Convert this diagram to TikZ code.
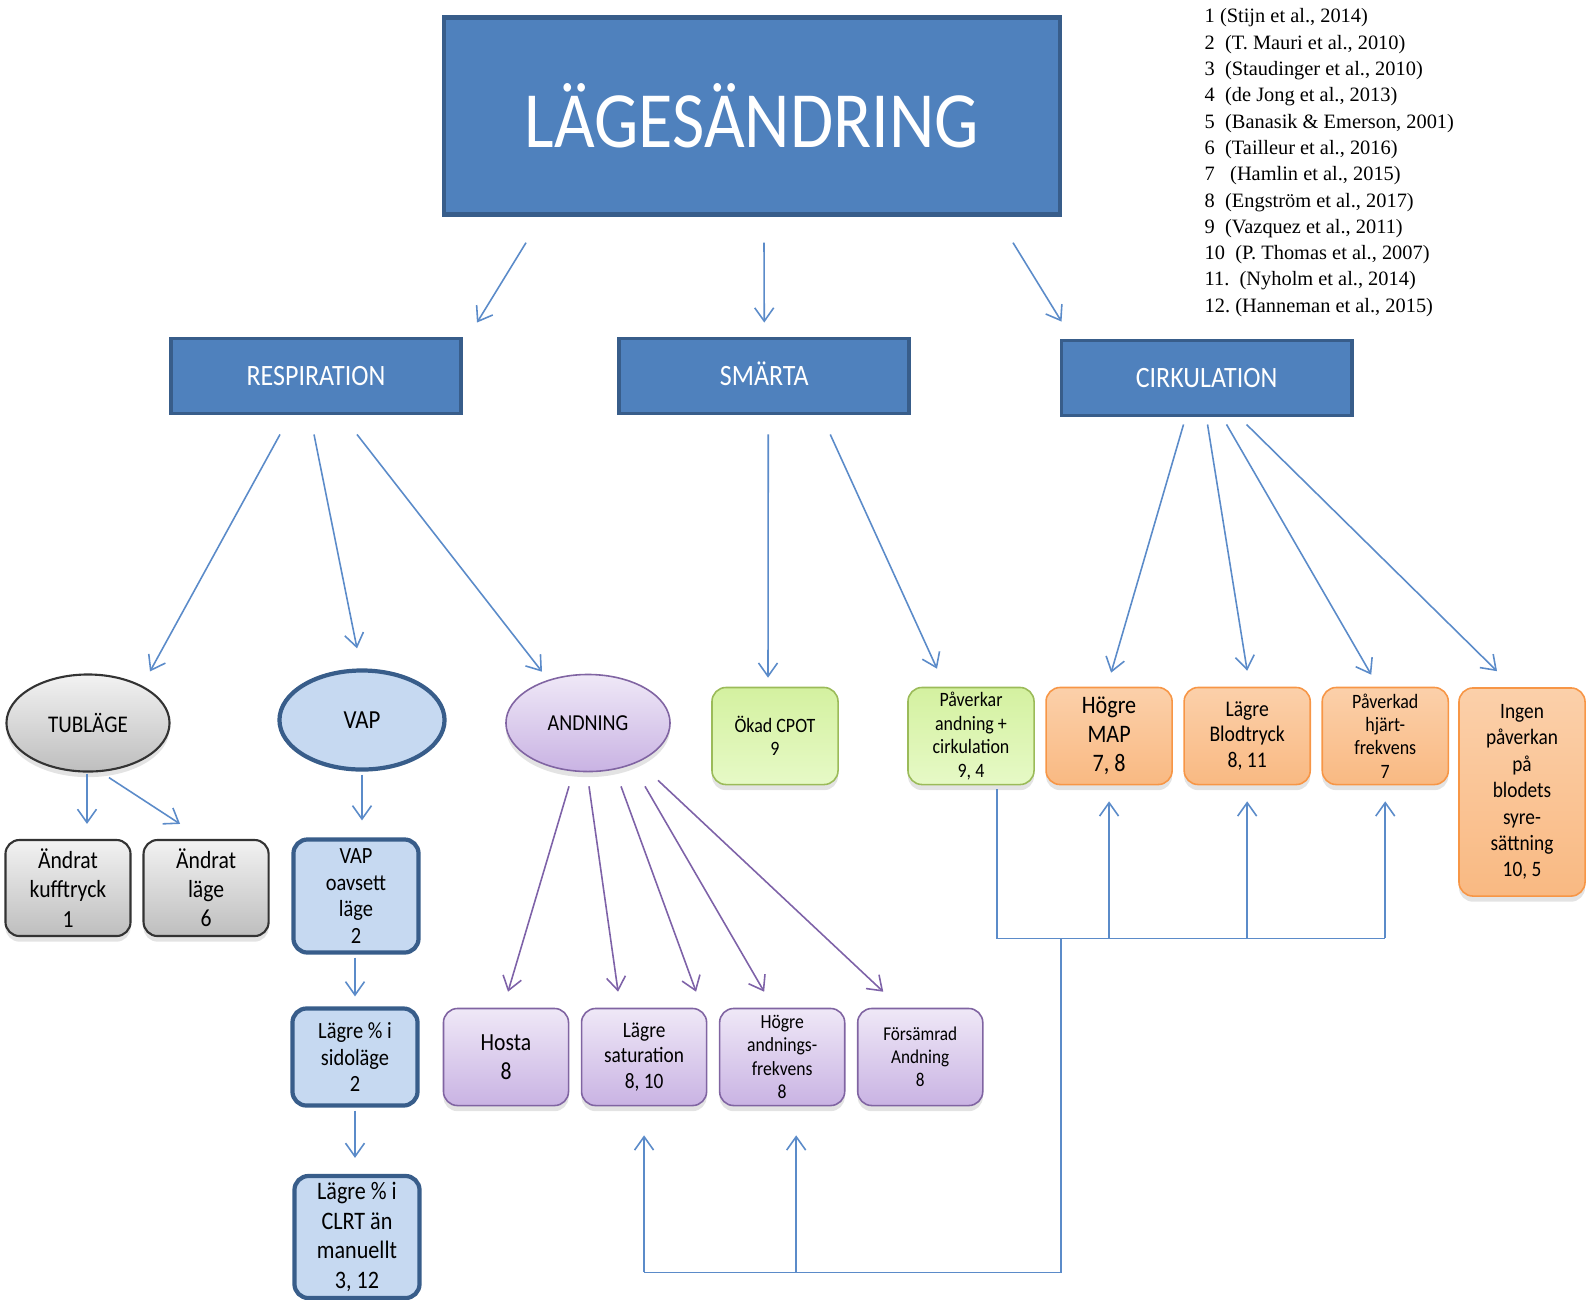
\documentclass[tikz,border=0pt]{standalone}
\usepackage{fontspec}
\setmainfont{Carlito}[FakeStretch=0.88]
\newfontfamily\reffont{Liberation Serif}
\usetikzlibrary{shapes.geometric,arrows.meta,calc,shadows}

\definecolor{boxblue}{HTML}{4F81BD}
\definecolor{edgeblue}{HTML}{385D8A}
\definecolor{paleblue}{HTML}{C6D9F1}
\definecolor{arrowblue}{HTML}{5B8BC9}
\definecolor{grayhi}{HTML}{F2F2F2}
\definecolor{graylo}{HTML}{BEBEBE}
\definecolor{grayedge}{HTML}{333333}
\definecolor{purpedge}{HTML}{8064A2}
\definecolor{purphi}{HTML}{EFE8F7}
\definecolor{purplo}{HTML}{C9B3E3}
\definecolor{purparrow}{HTML}{7E62A8}
\definecolor{greenedge}{HTML}{9BBB59}
\definecolor{greenhi}{HTML}{D4F1A0}
\definecolor{greenlo}{HTML}{E6F9C6}
\definecolor{orangeedge}{HTML}{F79646}
\definecolor{orangehi}{HTML}{FBD0AA}
\definecolor{orangelo}{HTML}{F9B982}

\newcommand{\fsz}[2]{\fontsize{#1}{#2}\selectfont}

\begin{document}
\begin{tikzpicture}[x=0.01cm,y=-0.01cm,node distance=1.38cm]

	\tikzstyle{headbox}=[rectangle,fill=boxblue,draw=edgeblue,line width=1.2pt,
		text=white,minimum width=6.15cm,minimum height=1.97cm,font=\fsz{22.7}{26}]
	\tikzstyle{topic}=[rectangle,fill=boxblue,draw=edgeblue,line width=1.1pt,
		text=white,minimum width=2.9cm,minimum height=0.75cm,inner sep=1pt,
		text height=5.5pt,text depth=0pt,font=\fsz{8.4}{10}]
	\tikzstyle{shade}=[drop shadow={opacity=0.22,shadow xshift=0pt,shadow yshift=-1.6pt}]
	\tikzstyle{grayell}=[ellipse,shade,top color=grayhi,bottom color=graylo,draw=grayedge,
		line width=0.6pt,minimum width=1.63cm,minimum height=0.97cm,inner sep=0pt]
	\tikzstyle{blueell}=[ellipse,fill=paleblue,draw=edgeblue,line width=1.2pt,
		minimum width=1.65cm,minimum height=0.99cm,inner sep=0pt]
	\tikzstyle{purpell}=[ellipse,shade,top color=purphi,bottom color=purplo,draw=purpedge,
		line width=0.45pt,minimum width=1.64cm,minimum height=0.97cm,inner sep=0pt]
	\tikzstyle{graybox}=[rectangle,rounded corners=4pt,shade,top color=grayhi,bottom color=graylo,
		draw=grayedge,line width=0.6pt,minimum width=1.25cm,minimum height=0.96cm,
		inner sep=1pt,align=center,font=\fsz{7}{8.3}]
	\tikzstyle{bluebox}=[rectangle,rounded corners=4pt,fill=paleblue,draw=edgeblue,line width=1.2pt,
		minimum width=1.25cm,minimum height=0.97cm,inner sep=1pt,align=center,font=\fsz{6.6}{7.5}]
	\tikzstyle{purpbox}=[rectangle,rounded corners=4pt,shade,top color=purphi,bottom color=purplo,
		draw=purpedge,line width=0.45pt,minimum width=1.25cm,minimum height=0.97cm,
		inner sep=1pt,align=center]
	\tikzstyle{greenbox}=[rectangle,rounded corners=4pt,shade,top color=greenhi,bottom color=greenlo,
		draw=greenedge,line width=0.45pt,minimum width=1.26cm,minimum height=0.97cm,
		inner sep=1pt,align=center,font=\fsz{5.8}{6.7}]
	\tikzstyle{orangebox}=[rectangle,rounded corners=4pt,shade,top color=orangehi,bottom color=orangelo,
		draw=orangeedge,line width=0.45pt,minimum width=1.26cm,minimum height=0.97cm,
		inner sep=1pt,align=center]
	\tikzstyle{bluearrow}=[->,>={Straight Barb[length=3.8pt,width=5.4pt]},draw=arrowblue,line width=0.45pt]
	\tikzstyle{purparrow}=[->,>={Straight Barb[length=3.8pt,width=5.4pt]},draw=purparrow,line width=0.45pt]
	\tikzstyle{blueline}=[draw=arrowblue,line width=0.45pt]

	\useasboundingbox (0,0) rectangle (1588,1299);

	% top and topics
	\node[headbox]	(lage)	at (752,116)	{LÄGESÄNDRING};
	\node[topic]	(resp)	at (316,376)	{RESPIRATION};
	\node[topic,right of=resp,node distance=4.48cm]	(smarta)	{SMÄRTA};
	\node[topic,right of=smarta,node distance=4.42cm,yshift=-0.02cm]	(cirk)	{CIRKULATION};

	% respiration
	\node[grayell,font=\fsz{6.8}{8}]	(tub)	at (88,723)	{TUBLÄGE};
	\node[blueell,font=\fsz{7.4}{8.5}]	(vap)	at (362,720)	{VAP};
	\node[purpell,font=\fsz{6.5}{8}]	(andn)	at (588,723)	{ANDNING};
	\node[graybox]	(kuff)	at (68,888)	{Ändrat\\kufftryck\\1};
	\node[graybox,right of=kuff]	(andr)	{Ändrat\\läge\\6};
	\node[bluebox,minimum height=1.13cm]	(oav)	at (356,896)	{VAP\\oavsett\\läge\\2};
	\node[bluebox]	(sido)	at (355,1057)	{Lägre \% i\\sidoläge\\2};
	\node[bluebox,minimum height=1.22cm,font=\fsz{7.15}{8.4}]	(clrt)	at (357,1237)	{Lägre \% i\\CLRT än\\manuellt\\3, 12};
	\node[purpbox,font=\fsz{7}{8.2}]	(hosta)	at (506,1057)	{Hosta\\8};
	\node[purpbox,right of=hosta,font=\fsz{6.25}{7.3}]	(sat)	{Lägre\\saturation\\8, 10};
	\node[purpbox,right of=sat,font=\fsz{5.7}{6.6}]	(hogre)	{Högre\\andnings-\\frekvens\\8};
	\node[purpbox,right of=hogre,font=\fsz{5.55}{6.6}]	(fors)	{Försämrad\\Andning\\8};

	% smärta and cirkulation
	\node[greenbox]	(cpot)	at (775,736)	{Ökad CPOT\\9};
	\node[greenbox]	(pav)	at (971,736)	{Påverkar\\andning +\\cirkulation\\9, 4};
	\node[orangebox,right of=pav,font=\fsz{7.15}{8.2}]	(map)	{Högre\\MAP\\7, 8};
	\node[orangebox,right of=map,font=\fsz{6.35}{7.3}]	(blod)	{Lägre\\Blodtryck\\8, 11};
	\node[orangebox,right of=blod,font=\fsz{5.8}{6.6}]	(hjart)	{Påverkad\\hjärt-\\frekvens\\7};
	\node[orangebox,minimum height=2.08cm,font=\fsz{6.25}{7.5}]	(ingen)	at (1522,792)	{Ingen\\påverkan\\på\\blodets\\syre-\\sättning\\10, 5};

	% references
	\node[anchor=north west,align=left,inner sep=0pt,font=\reffont\frenchspacing\fsz{5.8}{7.48}]	(refs)	at (1204,8)
		{1 (Stijn et al., 2014)\\2~~(T. Mauri et al., 2010)\\3~~(Staudinger et al., 2010)\\
		4~~(de Jong et al., 2013)\\5~~(Banasik \& Emerson, 2001)\\6~~(Tailleur et al., 2016)\\
		7~~~(Hamlin et al., 2015)\\8~~(Engström et al., 2017)\\9~~(Vazquez et al., 2011)\\
		10~~(P. Thomas et al., 2007)\\11.~~(Nyholm et al., 2014)\\12. (Hanneman et al., 2015)};

	% arrows
	\draw[bluearrow] ($(lage.south)+(-226,26)$) -- ($(resp.north)+(161,-14)$);
	\draw[bluearrow] ($(lage.south)+(12,26)$) -- ($(smarta.north)+(0,-14)$);
	\draw[bluearrow] ($(lage.south)+(261,26)$) -- ($(cirk.north)+(-145,-17)$);

	\draw[bluearrow] ($(resp.south)+(-36,19)$) -- ($(tub.north)+(62,-2)$);
	\draw[bluearrow] ($(resp.south)+(-2,19)$) -- ($(vap.north)+(-5,-20)$);
	\draw[bluearrow] ($(resp.south)+(41,19)$) -- ($(andn.north)+(-46,-2)$);
	\draw[bluearrow] ($(smarta.south)+(4,19)$) -- ($(cpot.north)+(-7,-9)$);
	\draw[bluearrow] ($(smarta.south)+(66,19)$) -- ($(pav.north)+(-34,-18)$);
	\draw[bluearrow] ($(cirk.south)+(-23,7)$) -- ($(map.north)+(2,-14)$);
	\draw[bluearrow] ($(cirk.south)+(1,7)$) -- ($(blod.north)+(0,-16)$);
	\draw[bluearrow] ($(cirk.south)+(20,7)$) -- ($(hjart.north)+(-14,-12)$);
	\draw[bluearrow] ($(cirk.south)+(40,7)$) -- ($(ingen.north)+(-25,-16)$);

	\draw[bluearrow] ($(tub.south)+(-1,1)$) -- ($(kuff.north)+(19,-15)$);
	\draw[bluearrow] ($(tub.south)+(21,5)$) -- ($(andr.north)+(-26,-15)$);
	\draw[bluearrow] ($(vap.south)+(0,3)$) -- ($(oav.north)+(6,-17)$);
	\draw[bluearrow] ($(oav.south)+(-1,3)$) -- ($(sido.north)+(0,-10)$);
	\draw[bluearrow] ($(sido.south)+(0,3)$) -- ($(clrt.north)+(-2,-16)$);

	\draw[purparrow] ($(andn.south)+(-19,14)$) -- ($(hosta.north)+(2,-16)$);
	\draw[purparrow] ($(andn.south)+(1,14)$) -- ($(sat.north)+(-26,-16)$);
	\draw[purparrow] ($(andn.south)+(33,14)$) -- ($(sat.north)+(52,-16)$);
	\draw[purparrow] ($(andn.south)+(57,14)$) -- ($(hogre.north)+(-18,-16)$);
	\draw[purparrow] ($(andn.south)+(70,8)$) -- ($(fors.north)+(-37,-16)$);

	% feedback lines
	\coordinate (bus) at ($(pav.south)+(26,153)$);
	\coordinate (low) at ($(bus)+(64,334)$);
	\draw[blueline] ($(pav.south)+(26,4)$) -- (bus) -- (bus -| hjart.south);
	\foreach \n in {map,blod,hjart}
		\draw[bluearrow] (bus -| \n.south) -- ($(\n.south)+(0,16)$);
	\draw[blueline] ($(bus)+(64,0)$) -- (low) -- (low -| sat.south);
	\draw[bluearrow] (low -| sat.south) -- ($(sat.south)+(0,29)$);
	\draw[bluearrow] ($(low -| hogre.south)+(14,0)$) -- ($(hogre.south)+(14,29)$);

\end{tikzpicture}
\end{document}
